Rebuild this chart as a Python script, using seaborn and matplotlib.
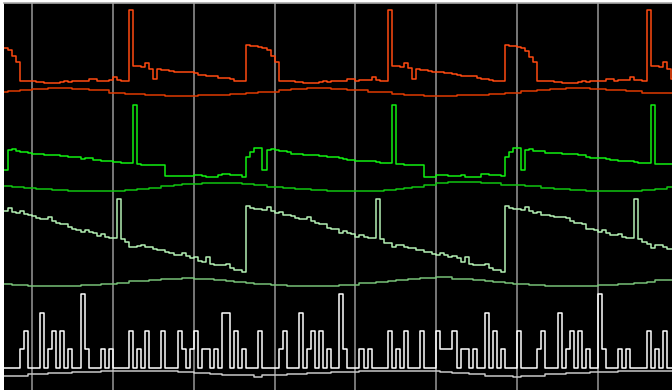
import matplotlib

matplotlib.use("Agg")
import matplotlib.pyplot as plt
import numpy as np
import pandas as pd
import seaborn as sns

# Step traces: (sample index, value) change points.
# Each value holds until the next change point.
red_main = [
    (-7, 342), (-6, 340), (-5, 334), (-4, 328), (-3, 309), (1, 308), (3, 307), (7, 308),
    (8, 309), (9, 308), (10, 309), (14, 311), (16, 309), (17, 309.5), (19, 310), (20, 313),
    (21, 310), (22, 309), (24, 380), (25, 324), (27, 323), (28, 327), (29, 321), (30, 311),
    (31, 321), (32, 320), (34, 319), (35, 318), (40, 317), (41, 315), (43, 314), (46, 312),
    (49, 311), (50, 309), (53, 345), (54, 344), (56, 343), (57, 342), (58, 340), (59, 334),
    (60, 328), (61, 309), (65, 308), (67, 307), (71, 308), (72, 309), (73, 308), (74, 309),
    (78, 311), (80, 309), (81, 310), (84, 313), (85, 310), (86, 309), (88, 380), (89, 324),
    (91, 323), (92, 327), (93, 322), (94, 311), (95, 321), (96, 320), (98, 319), (99, 318),
    (102, 317), (104, 316), (105, 315), (106, 314), (110, 312), (111, 311), (113, 310),
    (114, 309), (117, 345), (118, 344), (120, 343), (121, 342), (122, 339), (123, 333),
    (124, 328), (125, 309), (129, 308), (131, 307), (135, 308), (136, 309), (137, 308),
    (138, 309), (142, 311), (144, 309), (145, 310), (148, 313), (149, 310), (151, 309),
    (152, 380), (153, 324), (155, 323), (156, 328), (157, 321), (158, 311),
]
red_avg = [
    (-7, 298), (-6, 299), (-5, 299.5), (-3, 300.5), (0, 301.5), (4, 302.5), (10, 301.5),
    (14, 300), (19, 297.5), (23, 296.5), (28, 295), (33, 294), (41, 295), (49, 296),
    (53, 297), (56, 298.5), (61, 300), (64, 301.5), (68, 302.5), (74, 301.5), (78, 300),
    (83, 298), (89, 296.5), (92, 295), (97, 294), (105, 295), (113, 296), (117, 297.5),
    (121, 299), (125, 300), (128, 301.5), (132, 302.5), (138, 301.5), (142, 300),
    (147, 299), (151, 297.5),
]
green_main = [
    (-7, 220), (-6, 240), (-5, 240.7), (-4, 239.3), (-3, 237.7), (-1, 236.7), (0, 236),
    (3, 235.3), (7, 234.3), (9, 232.7), (12, 231), (13, 232), (15, 230.3), (17, 229.3),
    (20, 228.3), (22, 227), (25, 285), (26, 226.3), (27, 225.3), (33, 214), (40, 215),
    (42, 214), (43, 212.7), (46, 215), (47, 216), (49, 214.7), (52, 213.3), (53, 233.3),
    (54, 238.3), (55, 241.7), (57, 220), (58, 240), (59, 240.7), (60, 240), (61, 238.7),
    (63, 237.7), (64, 236.3), (67, 235.3), (71, 234), (73, 232.7), (76, 231.7), (77, 231),
    (78, 230), (80, 229.3), (85, 228), (86, 227), (89, 285), (90, 226), (92, 224.7),
    (97, 213.3), (100, 214.7), (103, 214), (106, 214.7), (107, 212.7), (110, 213.3),
    (111, 215.7), (113, 215), (116, 214), (117, 233.3), (118, 238.3), (119, 241.7),
    (121, 220), (122, 240), (123, 240.7), (124, 239.3), (125, 238.7), (127, 236.7),
    (131, 235.7), (135, 234.7), (137, 233.3), (138, 232.3), (142, 231), (143, 230),
    (145, 229), (149, 228), (150, 227), (153, 285), (154, 225.7),
]
green_avg = [
    (-7, 204), (-5, 203.3), (-2, 202.3), (1, 201), (5, 200), (9, 199), (15, 198.7),
    (23, 200), (26, 201), (29, 202.3), (32, 203.7), (35, 205), (37, 206.3), (42, 207.3),
    (47, 207), (52, 205.7), (55, 204.7), (58, 203.3), (62, 202), (65, 201), (69, 199.7),
    (73, 198.7), (87, 199.7), (90, 200.7), (92, 202), (94, 203.3), (97, 205), (100, 206.7),
    (103, 207.7), (111, 206.7), (116, 205.3), (122, 204), (126, 202.3), (129, 201),
    (133, 199.7), (137, 198.7), (151, 200), (154, 201.3), (157, 202.7),
]
pale_main = [
    (-7, 179.3), (-6, 182), (-5, 178.3), (-4, 176.7), (-3, 178.7), (-2, 176), (-1, 174.7),
    (0, 174), (1, 171.7), (2, 170.7), (4, 172.7), (5, 169.3), (6, 167), (7, 166), (9, 162.7),
    (10, 161.3), (11, 160), (12, 158), (13, 160), (14, 158), (15, 156.7), (16, 154),
    (17, 155.7), (18, 153.3), (19, 151.7), (21, 190.7), (22, 150.7), (23, 148), (24, 142.7),
    (26, 144), (27, 145.3), (28, 143.3), (30, 141.3), (31, 140), (33, 138.3), (34, 136.7),
    (35, 135.3), (37, 137.3), (38, 134), (39, 132), (40, 133.3), (41, 129.3), (42, 128.3),
    (43, 132.7), (44, 126), (45, 124.7), (48, 126), (49, 122), (50, 120), (52, 118),
    (53, 184), (54, 182), (55, 181), (57, 179.7), (58, 182.7), (59, 178.7), (60, 176.7),
    (61, 178.3), (62, 175.3), (64, 174), (65, 171.7), (66, 170.7), (68, 172.7), (69, 169.3),
    (70, 166.7), (71, 165.7), (73, 162), (74, 160.7), (76, 156.7), (77, 159.3), (78, 156.7),
    (79, 155.7), (80, 153.3), (81, 154.7), (82, 152.7), (83, 151.7), (85, 190.7),
    (86, 150.7), (87, 147.3), (89, 142.7), (90, 144.7), (91, 145.3), (92, 143.3),
    (93, 141.7), (95, 140), (97, 138), (99, 136), (100, 135), (101, 137), (102, 135),
    (103, 133), (104, 134), (105, 132), (106, 128), (107, 133), (108, 126), (109, 125),
    (112, 126), (113, 122), (114, 120), (116, 118), (117, 184), (118, 182), (119, 181),
    (121, 179.7), (122, 182.7), (123, 178.7), (124, 176.7), (125, 178.3), (126, 175.3),
    (128, 174), (129, 172.7), (132, 171.7), (133, 169.3), (134, 167.3), (136, 165.7),
    (137, 161.3), (139, 160), (140, 158), (141, 160), (142, 156.7), (143, 154.7),
    (145, 155.7), (146, 153.3), (147, 151.7), (149, 190.7), (150, 150.7), (151, 148),
    (152, 146), (153, 141.7), (154, 145), (156, 143.3), (157, 141.3),
]
pale_avg = [
    (-7, 106), (-5, 104.7), (-1, 104), (12, 105), (17, 106.3), (21, 107.3), (24, 108.7),
    (29, 110), (32, 111.3), (37, 112.3), (40, 111.3), (45, 110.3), (48, 109.3), (50, 108.3),
    (53, 107.3), (55, 106), (59, 105), (63, 104), (76, 105.3), (81, 106.7), (85, 107.7),
    (88, 109), (90, 109.7), (93, 110.7), (96, 111.7), (100, 112.7), (104, 111.3),
    (109, 110.3), (112, 109), (114, 108), (117, 107), (119, 106), (123, 105), (127, 104),
    (140, 105), (145, 106.3), (149, 107.3), (152, 108.3), (154, 109.7),
]
# white trace is a 0..4 level signal
white_levels = [
    (-7, 0), (-3, 1), (-2, 2), (-1, 0), (2, 3), (3, 0), (4, 1), (5, 2), (6, 0), (7, 2),
    (8, 0), (9, 1), (10, 0), (12, 4), (13, 1), (14, 0), (17, 1), (18, 0), (19, 1), (20, 0),
    (24, 2), (25, 0), (26, 1), (27, 0), (28, 2), (29, 0), (32, 2), (33, 0), (36, 2), (37, 1),
    (38, 0), (39, 1), (40, 2), (41, 0), (42, 1), (44, 0), (45, 1), (46, 0), (47, 3), (49, 0),
    (50, 2), (51, 0), (52, 1), (53, 0), (56, 2), (57, 0), (61, 1), (62, 2), (63, 0), (66, 3),
    (67, 0), (68, 1), (69, 2), (70, 0), (71, 2), (72, 0), (73, 1), (74, 0), (76, 4), (77, 1),
    (78, 0), (81, 1), (82, 0), (83, 1), (84, 0), (88, 2), (89, 0), (90, 1), (91, 0), (92, 2),
    (93, 0), (96, 2), (97, 0), (100, 2), (101, 1), (104, 2), (105, 0), (106, 1), (108, 0),
    (109, 1), (110, 0), (112, 3), (113, 0), (114, 2), (115, 0), (116, 1), (117, 0),
    (120, 2), (121, 0), (125, 1), (126, 2), (127, 0), (130, 3), (131, 0), (132, 1),
    (133, 2), (134, 0), (135, 2), (136, 0), (137, 1), (138, 0), (140, 4), (141, 1),
    (142, 0), (145, 1), (146, 0), (147, 1), (148, 0), (152, 2), (153, 0), (154, 1),
    (155, 0), (156, 2), (157, 0),
]
white_avg = [
    (-7, 14), (-1, 15.7), (4, 16.7), (10, 17.7), (17, 18.7), (36, 17.7), (40, 16.7),
    (44, 15.7), (47, 15), (55, 13.3), (57, 14.7), (63, 15.7), (68, 16.7), (74, 17.7),
    (81, 18.7), (101, 17.7), (104, 16.7), (108, 15.7), (112, 14.3), (119, 13.3),
    (121, 14.3), (127, 15.7), (132, 16.7), (138, 17.7), (145, 18.7),
]

T_START, T_END = -6.93, 158.3
WHITE_BASE, WHITE_STEP = 22.3, 18.35


def step_frame(points):
    df = pd.DataFrame(points, columns=["t", "v"])
    tail = pd.DataFrame({"t": [T_END + 1], "v": [df["v"].iloc[-1]]})
    return pd.concat([df, tail], ignore_index=True)


white_main = [(t, WHITE_BASE + WHITE_STEP * lvl) for t, lvl in white_levels]

traces = [
    (red_avg, "#e03a00"),
    (red_main, "#ff4a10"),
    (green_avg, "#10c410"),
    (green_main, "#10f010"),
    (pale_avg, "#78c078"),
    (pale_main, "#b4f0b4"),
    (white_avg, "#c8c8c8"),
    (white_main, "#ffffff"),
]

sns.set_style("dark")
fig = plt.figure(figsize=(6.72, 3.9), dpi=100)
ax = fig.add_axes([4 / 672, 0, 668 / 672, 387 / 390])
ax.set_facecolor("black")

for points, color in traces:
    sns.lineplot(
        data=step_frame(points),
        x="t",
        y="v",
        ax=ax,
        color=color,
        linewidth=1.1,
        drawstyle="steps-post",
        estimator=None,
        sort=False,
        legend=False,
    )

ax.set_xlim(T_START, T_END)
ax.set_ylim(0, 387)
ax.set_xticks(np.arange(0, 160, 20))
ax.set_yticks([])
ax.tick_params(length=0, labelbottom=False, labelleft=False)
ax.set_xlabel("")
ax.set_ylabel("")
ax.grid(axis="x", color="#8c8c8c", linewidth=1.2)
ax.set_axisbelow(True)
for side in ["left", "right", "bottom"]:
    ax.spines[side].set_visible(False)
ax.spines["top"].set_color("#a8a8a8")
ax.spines["top"].set_linewidth(1.2)

fig.savefig("out.png", dpi=100, facecolor="white")
